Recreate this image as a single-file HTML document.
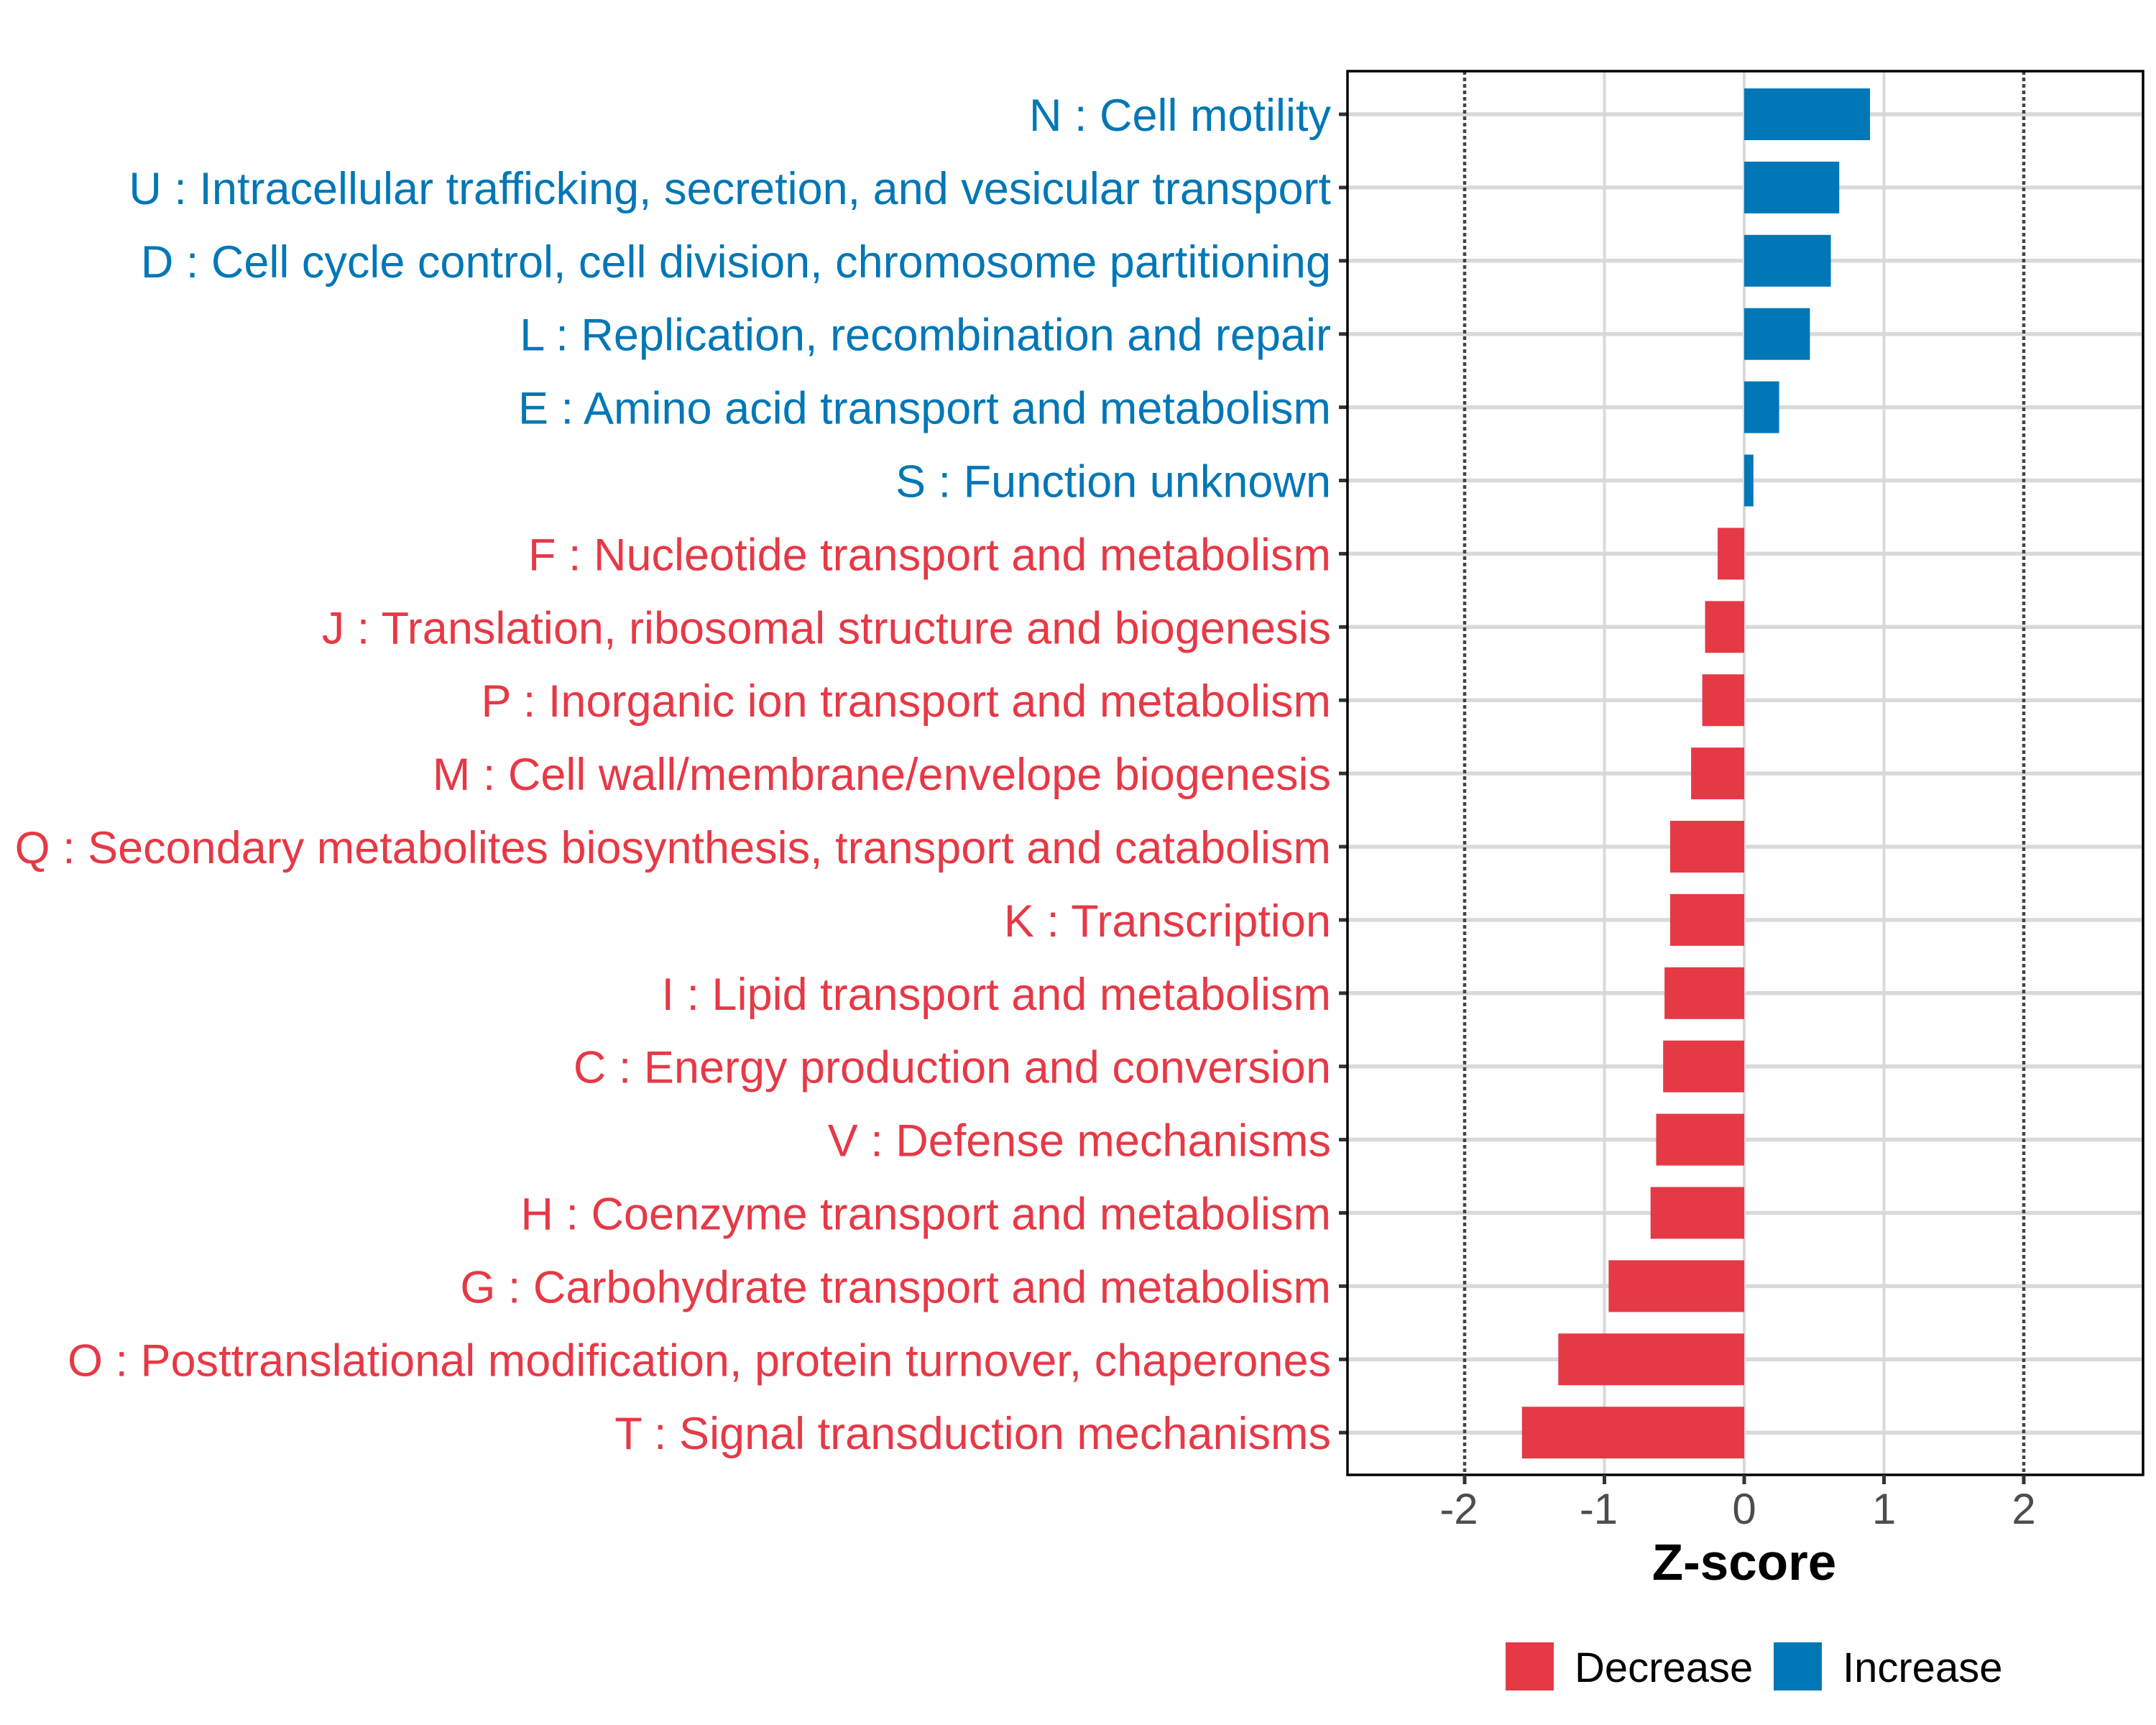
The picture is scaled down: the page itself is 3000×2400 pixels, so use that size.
<!DOCTYPE html>
<html><head><meta charset="utf-8"><style>
html,body{margin:0;padding:0;background:#fff;}
svg{display:block;font-family:"Liberation Sans",Arial,sans-serif;}
</style></head><body>
<svg id="chart" width="3000" height="2400" viewBox="0 0 3000 2400">
<rect width="3000" height="2400" fill="#fff"/>
<g id="grid"></g>
<g id="bars"></g>
<g id="axes"></g>
</svg>
<script>
const categories = ["N : Cell motility","U : Intracellular trafficking, secretion, and vesicular transport","D : Cell cycle control, cell division, chromosome partitioning","L : Replication, recombination and repair","E : Amino acid transport and metabolism","S : Function unknown","F : Nucleotide transport and metabolism","J : Translation, ribosomal structure and biogenesis","P : Inorganic ion transport and metabolism","M : Cell wall/membrane/envelope biogenesis","Q : Secondary metabolites biosynthesis, transport and catabolism","K : Transcription","I : Lipid transport and metabolism","C : Energy production and conversion","V : Defense mechanisms","H : Coenzyme transport and metabolism","G : Carbohydrate transport and metabolism","O : Posttranslational modification, protein turnover, chaperones","T : Signal transduction mechanisms"];
const zscores = [0.90,0.68,0.62,0.47,0.25,0.066,-0.19,-0.28,-0.30,-0.38,-0.53,-0.53,-0.57,-0.58,-0.63,-0.67,-0.97,-1.33,-1.59];
const xTicks = [-2,-1,0,1,2];
const xTickLabels = ["-2","-1","0","1","2"];
const thresholds = [-2,2];
const legendLabels = ["Decrease","Increase"];

const NS="http://www.w3.org/2000/svg";
const PL=1875, PR=2982, PT=99, PB=2052;
const X0=2427, UNIT=194.5;
const xs = v => X0 + v*UNIT;
const ROW0=159, STEP=101.9, BARH=72;
const ys = i => ROW0 + i*STEP;
const RED="#E63946", BLUE="#0077B6";
function mk(tag, attrs, parent){const e=document.createElementNS(NS,tag);for(const k in attrs)e.setAttribute(k,attrs[k]);parent.appendChild(e);return e;}
const grid=document.getElementById('grid'), bars=document.getElementById('bars'), axes=document.getElementById('axes');

xTicks.forEach((t)=>{
  if(thresholds.includes(t)) return;
  const l=mk('line',{x1:xs(t),x2:xs(t),y1:PT,y2:PB,stroke:'#D9D9D9','stroke-width':4},grid);
  
  
});
categories.forEach((c,i)=>{
  const l=mk('line',{x1:PL,x2:PR,y1:ys(i),y2:ys(i),stroke:'#D9D9D9','stroke-width':5.5},grid);
  
  
});
thresholds.forEach(t=>{
  const l=mk('line',{x1:xs(t),x2:xs(t),y1:PT,y2:PB,stroke:'#444','stroke-width':4.5,'stroke-dasharray':'5 4'},grid);
  
  
});
categories.forEach((c,i)=>{
  const v=zscores[i], col=v>=0?BLUE:RED;
  const x=Math.min(xs(0),xs(v)), w=Math.abs(xs(v)-xs(0));
  const r=mk('rect',{x:x,y:ys(i)-BARH/2,width:w,height:BARH,fill:col},bars);
  
  
  const t=mk('text',{x:1852,y:ys(i)+23,'text-anchor':'end','font-size':63,fill:col},axes);
  t.textContent=c;
  
  
  const tk=mk('line',{x1:PL-12,x2:PL,y1:ys(i),y2:ys(i),stroke:'#333','stroke-width':5},axes);
  
  
});
const border=mk('rect',{x:PL,y:PT,width:PR-PL,height:PB-PT,fill:'none',stroke:'#000','stroke-width':3.5},axes);


xTicks.forEach((t,i)=>{
  const tk=mk('line',{x1:xs(t),x2:xs(t),y1:PB,y2:PB+13,stroke:'#333','stroke-width':5},axes);
  
  
  const lb=mk('text',{x:xs(t)-(t<0?8:0),y:2120,'text-anchor':'middle','font-size':60,fill:'#4d4d4d'},axes);
  lb.textContent=xTickLabels[i];
  
  
});
const title=mk('text',{x:xs(0),y:2198,'text-anchor':'middle','font-size':71,'font-weight':'bold',fill:'#000'},axes);
title.textContent="Z-score";


const legendX=[2095,2468], legendCol=[RED,BLUE];
legendLabels.forEach((lab,i)=>{
  const s=mk('rect',{x:legendX[i],y:2285,width:67,height:67,fill:legendCol[i]},axes);
  
  
  const t=mk('text',{x:legendX[i]+96,y:2340,'font-size':58,fill:'#000'},axes);
  t.textContent=lab;
  
  
});
</script>
</body></html>
